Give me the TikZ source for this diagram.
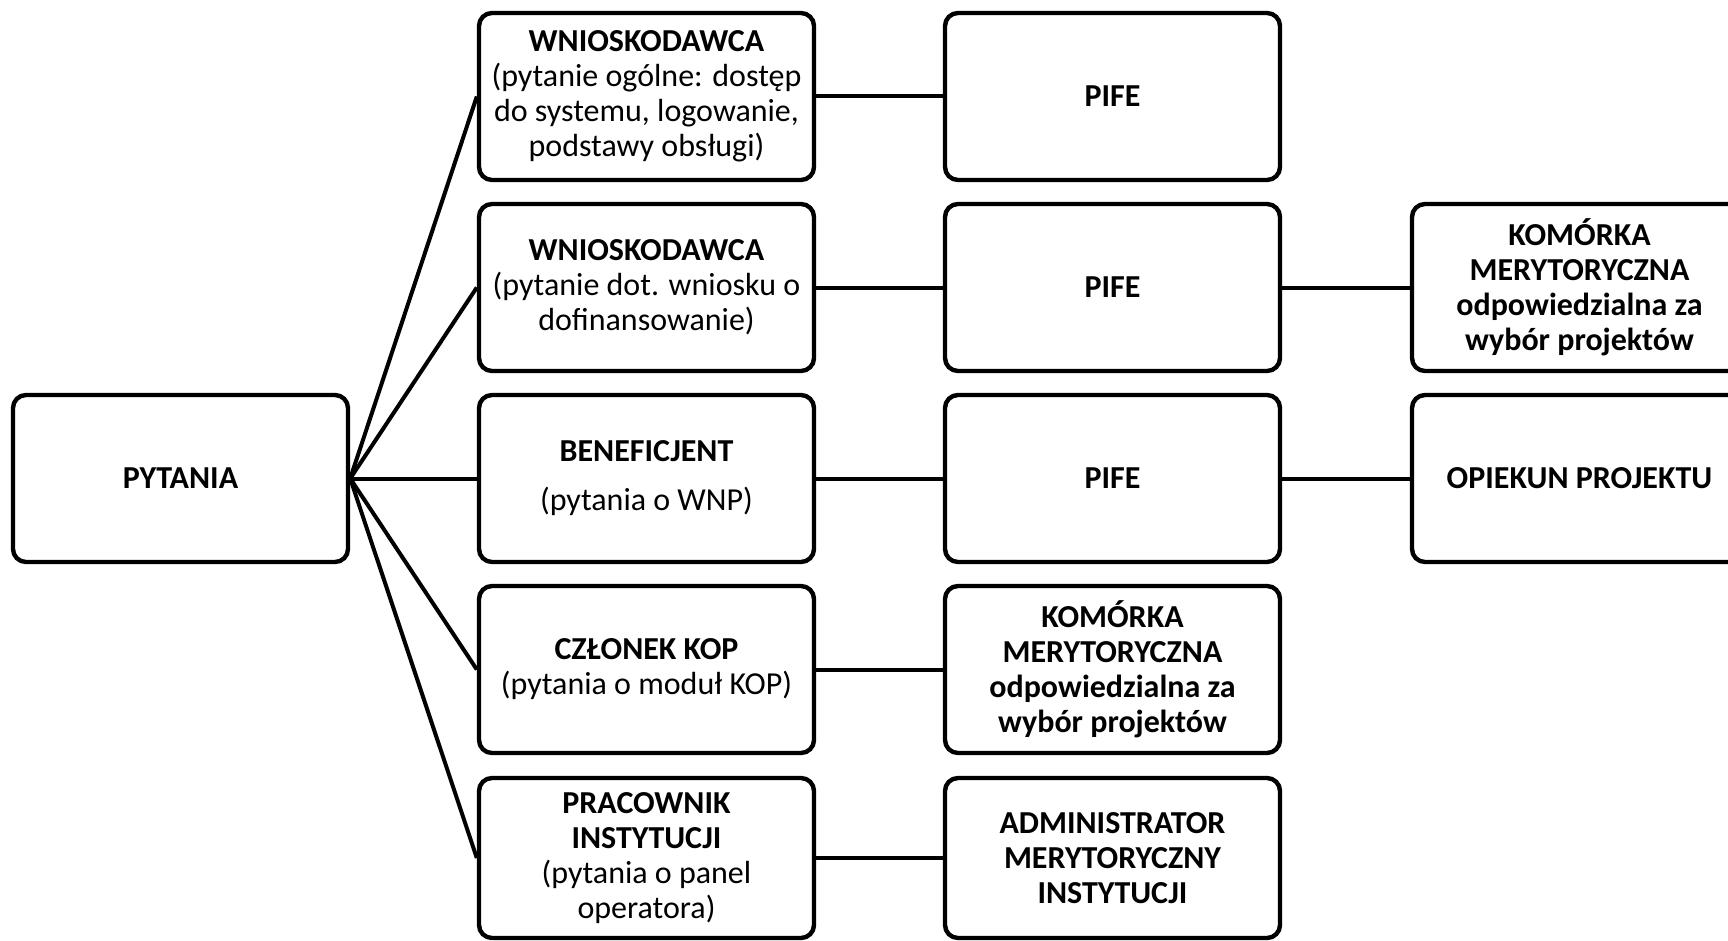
\documentclass[tikz,border=0pt]{standalone}
\usepackage{fontspec}
\setmainfont{Carlito}
\begin{document}
\begin{tikzpicture}[x=0.5pt,y=-0.5pt,
  box/.style={draw=black, line width=2.2pt, rounded corners=6.5pt, rectangle,
    minimum width=167.5pt, minimum height=83.5pt, inner sep=0pt, align=center,
    fill=white, font=\fontsize{16}{17.5}\selectfont},
  boldbox/.style={box, font=\fontsize{16}{17.5}\selectfont\bfseries},
  lastrow/.style={minimum height=80pt},
  conn/.style={draw=black, line width=2pt}]
\useasboundingbox (0,0) rectangle (1728,941);
\clip (0,0) rectangle (1728,941);

\node[boldbox] (p) at (180.5,478.5) {PYTANIA};

\node[box] (a1) at (646.5,96.5) {\textbf{WNIOSKODAWCA}\\(pytanie ogólne: dostęp\\do systemu, logowanie,\\podstawy obsługi)};
\node[box] (a2) at (646.5,287.5) {\textbf{WNIOSKODAWCA}\\(pytanie dot. wniosku o\\dofinansowanie)};
\node[box] (a3) at (646.5,478.5) {\textbf{BENEFICJENT}\\[7pt](pytania o WNP)};
\node[box] (a4) at (646.5,669.5) {\textbf{CZŁONEK KOP}\\(pytania o moduł KOP)};
\node[box, lastrow] (a5) at (646.5,858) {\textbf{PRACOWNIK}\\\textbf{INSTYTUCJI}\\(pytania o panel\\operatora)};

\node[boldbox] (b1) at (1112.5,96.5) {PIFE};
\node[boldbox] (b2) at (1112.5,287.5) {PIFE};
\node[boldbox] (b3) at (1112.5,478.5) {PIFE};
\node[boldbox] (b4) at (1112.5,669.5) {KOMÓRKA\\MERYTORYCZNA\\odpowiedzialna za\\wybór projektów};
\node[boldbox, lastrow] (b5) at (1112.5,858) {ADMINISTRATOR\\MERYTORYCZNY\\INSTYTUCJI};

\node[boldbox] (c2) at (1579.5,287.5) {KOMÓRKA\\MERYTORYCZNA\\odpowiedzialna za\\wybór projektów};
\node[boldbox] (c3) at (1579.5,478.5) {OPIEKUN PROJEKTU};

\foreach \n in {a1,a2,a3,a4,a5}{\draw[conn] (p.east) -- (\n.west);}
\foreach \i in {1,...,5}{\draw[conn] (a\i.east) -- (b\i.west);}
\draw[conn] (b2.east) -- (c2.west);
\draw[conn] (b3.east) -- (c3.west);
\end{tikzpicture}
\end{document}
